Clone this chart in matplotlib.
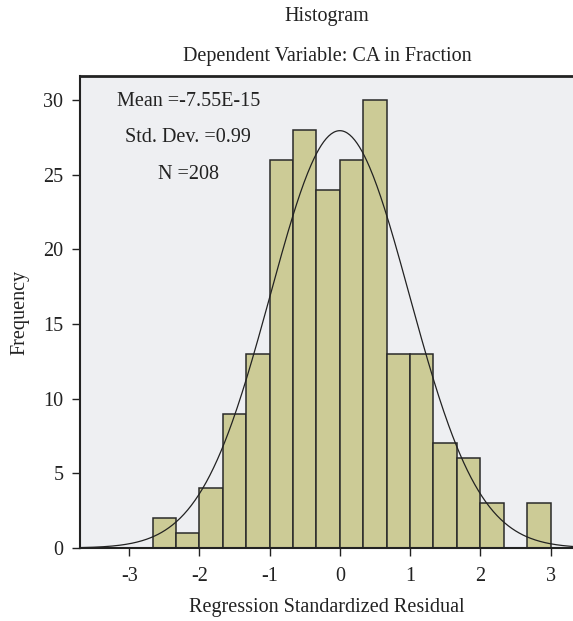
import matplotlib
matplotlib.use('Agg')
import matplotlib.pyplot as plt
import numpy as np

# histogram of standardized residuals (bin width 1/3)
bin_left = -8 / 3.0
bin_width = 1 / 3.0
counts = [2, 1, 4, 9, 13, 26, 28, 24, 26, 30, 13, 13, 7, 6, 3, 0, 3]
mean = -7.55e-15
std = 0.99
n = 208

plt.rcParams['font.family'] = ['Liberation Serif', 'DejaVu Serif']
plt.rcParams['axes.unicode_minus'] = False

fs = 14.5
fig = plt.figure(figsize=(5.73, 6.21), dpi=100)
ax = fig.add_axes([80 / 573, 73 / 621, 1 - 80 / 573, (548 - 76) / 621])
ax.set_facecolor('#eeeff2')

edges = bin_left + bin_width * np.arange(len(counts))
ax.bar(edges, counts, width=bin_width, align='edge', color='#cccb96',
       edgecolor='#2a2a2a', linewidth=1.1, zorder=2)

xs = np.linspace(-3.7, 3.33, 400)
pdf = n * bin_width * np.exp(-0.5 * ((xs - mean) / std) ** 2) / (std * np.sqrt(2 * np.pi))
ax.plot(xs, pdf, color='#222222', linewidth=0.9, zorder=3)

ax.set_xlim(-3.70, 3.32)
ax.set_ylim(0, 31.6)
ax.set_xticks([-3, -2, -1, 0, 1, 2, 3])
ax.set_yticks([0, 5, 10, 15, 20, 25, 30])
ax.tick_params(direction='out', length=6, width=1, labelsize=fs, colors='#222222')
ax.tick_params(axis='x', pad=8)
ax.tick_params(axis='y', pad=6)

ax.spines['right'].set_visible(False)
ax.spines['top'].set_linewidth(2)
ax.spines['left'].set_linewidth(1.5)
ax.spines['bottom'].set_linewidth(1.5)
for s in ax.spines.values():
    s.set_color('#222222')

ax.text(-2.16, 29.9, 'Mean =-7.55E-15', ha='center', va='center', fontsize=fs, color='#222222')
ax.text(-2.16, 27.45, 'Std. Dev. =0.99', ha='center', va='center', fontsize=fs, color='#222222')
ax.text(-2.16, 25.0, 'N =208', ha='center', va='center', fontsize=fs, color='#222222')

ax.set_xlabel('Regression Standardized Residual', fontsize=fs, labelpad=8, color='#222222')
ax.set_ylabel('Frequency', fontsize=fs, labelpad=10, color='#222222')

fig.text(327 / 573, 1 - 16 / 621, 'Histogram', ha='center', va='center', fontsize=fs, color='#222222')
fig.text(327 / 573, 1 - 57 / 621, 'Dependent Variable: CA in Fraction', ha='center', va='center',
         fontsize=fs, color='#222222')

plt.savefig('out.png', dpi=100)
